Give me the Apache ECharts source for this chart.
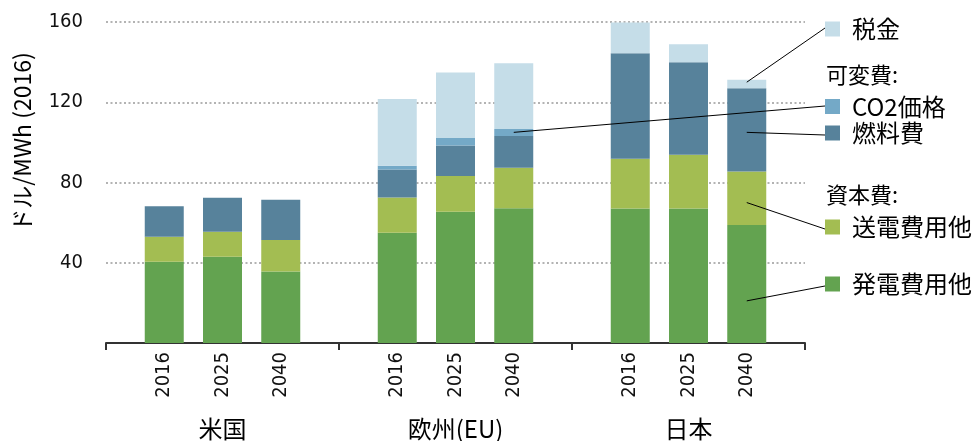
<!DOCTYPE html>
<html>
<head>
<meta charset="utf-8">
<script src="https://cdn.jsdelivr.net/npm/echarts/dist/echarts.min.js"></script>
<style>
    html, body { margin: 0; padding: 0; background: #fff; }
    #main { width: 980px; height: 441px; }
</style>
</head>
<body>
<div id="main"></div>
<script>
// 地域・年
var regions = ['米国', '欧州(EU)', '日本'];
var years = ['2016', '2025', '2040'];
var yTicks = [0, 40, 80, 120, 160];

// 各コスト (ドル/MWh), 米国3年 + 欧州3年 + 日本3年
var genCost = [40.5, 43, 35.6, 55, 65.4, 67.2, 67.1, 67.1, 58.8];   // 発電費用他
var gridCost = [12.5, 12.4, 15.7, 17.5, 17.9, 20.1, 24.7, 26.7, 26.7]; // 送電費用他
var fuelCost = [15.2, 17, 20.1, 14, 15.1, 15.9, 52.6, 46.2, 41.5];   // 燃料費
var co2Cost = [0, 0, 0, 1.9, 3.8, 3.5, 0, 0, 0];                     // CO2価格
var taxCost = [0, 0, 0, 33.2, 32.6, 32.8, 15.3, 8.9, 4.2];            // 税金

var labelFont = "'DejaVu Sans Condensed', 'DejaVu Sans', sans-serif";
var cjkFont = "'Noto Sans CJK JP', sans-serif";

// 地域ごとに空きスロットを入れる (0, 4, 8, 12 が区切り)
function slots(arr) {
    var out = [null];
    regions.forEach(function (r, i) {
        for (var j = 0; j < years.length; j++) {
            out.push(arr[i * years.length + j]);
        }
        out.push(null);
    });
    return out;
}
var xCats = slots(regions.map(function () { return years; }).reduce(function (a, b) { return a.concat(b); }, []))
    .map(function (v) { return v == null ? '' : v; });

barChart()
function barChart() {
    var myChart = echarts.init(document.getElementById('main'));

    // 凡例の位置と注記線
    var items = [
        { name: '発電費用他', data: genCost, color: '#63a350', c: 284, line: [11, 21, 286] },
        { name: '送電費用他', data: gridCost, color: '#a3bd52', c: 227, line: [11, 70, 229] },
        { name: '燃料費', data: fuelCost, color: '#57829b', c: 133, line: [11, 105, 135] },
        { name: 'CO2価格', data: co2Cost, color: '#74a9c7', c: 106.5, line: [7, 105, 106] },
        { name: '税金', data: taxCost, color: '#c5dde8', c: 29, line: [11, 130, 28] }
    ];

    var option = {
        animation: false,
        grid: {
            left: 106,
            right: 175,
            top: 22,
            bottom: 97
        },
        xAxis: [{
            type: 'category',
            data: xCats,
            boundaryGap: false,
            axisLine: {
                lineStyle: { color: '#333', width: 2 }
            },
            axisTick: {
                length: 7,
                interval: function (idx) { return idx % 4 === 0; },
                lineStyle: { color: '#333', width: 2 }
            },
            axisLabel: {
                interval: 0,
                rotate: 90,
                margin: 9,
                color: '#111',
                fontSize: 20,
                fontFamily: labelFont
            }
        }, {
            type: 'category',
            data: regions,
            position: 'bottom',
            axisLine: { show: false },
            axisTick: { show: false },
            axisLabel: {
                margin: 74,
                color: '#000',
                fontSize: 24,
                lineHeight: 24,
                fontFamily: cjkFont
            }
        }],
        yAxis: {
            type: 'value',
            min: yTicks[0],
            max: yTicks[yTicks.length - 1],
            interval: 40,
            axisLine: { show: false },
            axisTick: { show: false },
            axisLabel: {
                margin: 23,
                color: '#111',
                fontSize: 20,
                fontFamily: labelFont,
                formatter: function (v) { return v === 0 ? '' : v; }
            },
            splitLine: {
                lineStyle: { color: '#9a9a9a', width: 1.5, type: [2, 2.5] }
            }
        },
        legend: items.map(function (it) {
            return {
                data: [it.name],
                left: 825,
                top: it.c - 12,
                padding: 0,
                icon: 'rect',
                itemWidth: 15,
                itemHeight: 15,
                selectedMode: false,
                textStyle: {
                    fontSize: 24,
                    lineHeight: 24,
                    color: '#000',
                    fontFamily: cjkFont,
                    padding: [0, 0, 0, 7]
                }
            };
        }),
        graphic: [{
            type: 'text',
            x: 22,
            y: 142,
            rotation: Math.PI / 2,
            style: {
                text: 'ドル/MWh (2016)',
                fill: '#000',
                font: '23px ' + cjkFont,
                align: 'center',
                verticalAlign: 'middle'
            }
        }, {
            type: 'text',
            x: 826,
            y: 75,
            style: { text: '可変費:', fill: '#000', font: '22px ' + cjkFont, verticalAlign: 'middle' }
        }, {
            type: 'text',
            x: 826,
            y: 195,
            style: { text: '資本費:', fill: '#000', font: '22px ' + cjkFont, verticalAlign: 'middle' }
        }],
        series: items.map(function (it) {
            return {
                name: it.name,
                type: 'bar',
                stack: 'total',
                barWidth: 39,
                data: slots(it.data),
                itemStyle: { color: it.color },
                markLine: {
                    silent: true,
                    symbol: 'none',
                    label: { show: false },
                    lineStyle: { color: '#000', width: 1, type: 'solid' },
                    data: [[
                        { coord: [it.line[0], it.line[1]] },
                        { x: 825, y: it.line[2] }
                    ]]
                }
            };
        })
    };
    myChart.setOption(option);
}
</script>
</body>
</html>
